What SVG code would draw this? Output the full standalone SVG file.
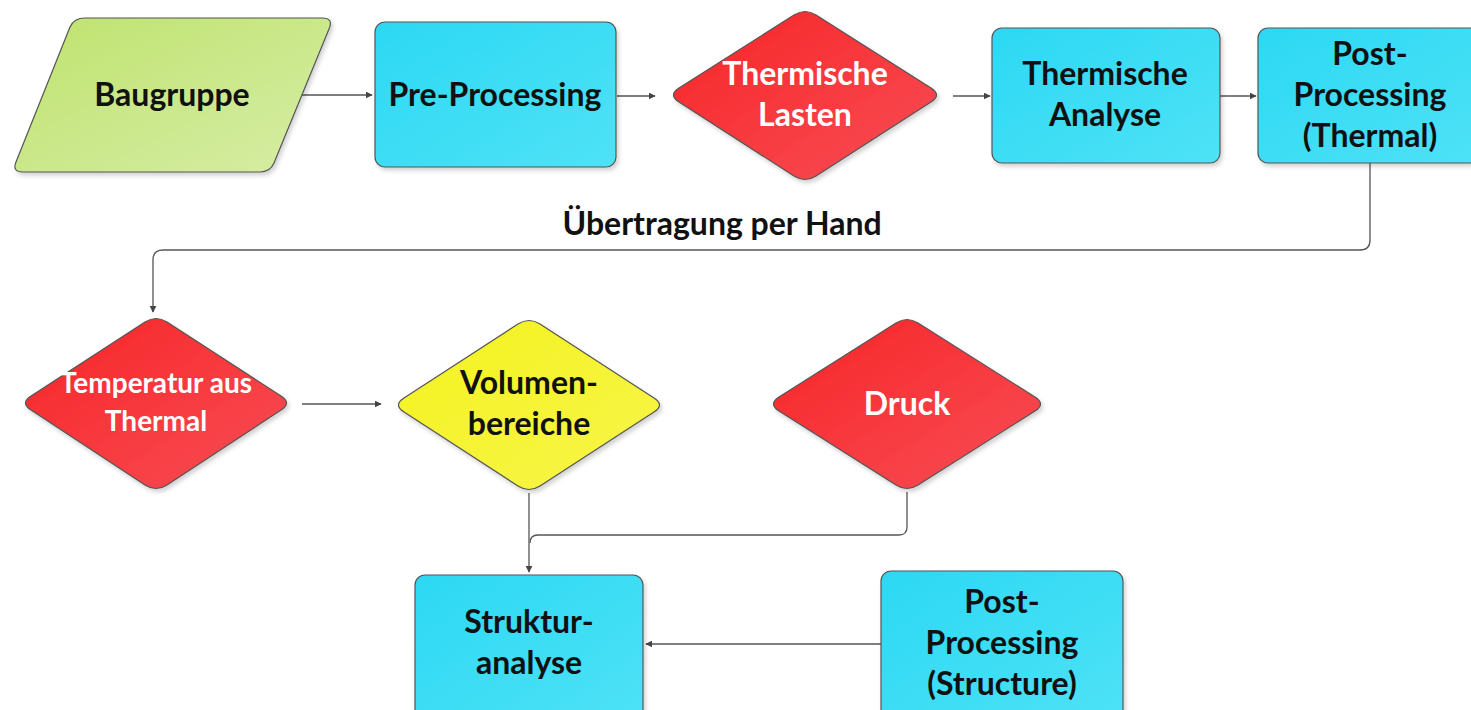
<svg xmlns="http://www.w3.org/2000/svg" width="1471" height="710" viewBox="0 0 1471 710">
<defs>
<linearGradient id="gCyan" x1="0" y1="0" x2="1" y2="1"><stop offset="0" stop-color="#2cd8f3"/><stop offset="1" stop-color="#4ee2f6"/></linearGradient>
<linearGradient id="gRed" x1="0" y1="0" x2="1" y2="1"><stop offset="0" stop-color="#f72427"/><stop offset="1" stop-color="#f84e55"/></linearGradient>
<linearGradient id="gGreen" x1="0" y1="0" x2="1" y2="1"><stop offset="0" stop-color="#bfe36e"/><stop offset="1" stop-color="#d6eda6"/></linearGradient>
<linearGradient id="gYellow" x1="0" y1="0" x2="1" y2="1"><stop offset="0" stop-color="#f4f21e"/><stop offset="1" stop-color="#f7f54a"/></linearGradient>
<filter id="sh" x="-10%" y="-10%" width="120%" height="120%"><feDropShadow dx="2" dy="3" stdDeviation="2" flood-color="#000" flood-opacity="0.18"/></filter>
<marker id="arr" viewBox="0 0 10 10" refX="9" refY="5" markerWidth="7" markerHeight="7" orient="auto" markerUnits="userSpaceOnUse"><path d="M0,0 L10,5 L0,10 Z" fill="#444"/></marker>
</defs>
<style>
.node{stroke:#555;stroke-width:1.2;filter:url(#sh)}
.cy{fill:url(#gCyan)}
.rd{fill:url(#gRed)}
.gr{fill:url(#gGreen)}
.ye{fill:url(#gYellow)}
.t{font-family:Lato,"Open Sans","Liberation Sans",sans-serif;font-weight:bold;font-size:32px;text-anchor:middle;fill:#111}
.w{fill:#fff}
.s{font-size:28px}
.conn{fill:none;stroke:#555;stroke-width:1.3}
</style>
<rect width="1471" height="710" fill="#fff"/>
<g id="connectors">
<path class="conn" d="M302,95 H372" marker-end="url(#arr)"/>
<path class="conn" d="M617,96 H655" marker-end="url(#arr)"/>
<path class="conn" d="M953,96 H990" marker-end="url(#arr)"/>
<path class="conn" d="M1220,96 H1256" marker-end="url(#arr)"/>
<path class="conn" d="M1370,163 V240 Q1370,250 1360,250 H163 Q153,250 153,260 V312" marker-end="url(#arr)"/>
<path class="conn" d="M302,404 H381" marker-end="url(#arr)"/>
<path class="conn" d="M529,493 V572" marker-end="url(#arr)"/>
<path class="conn" d="M907,492 V527 Q907,535 899,535 H538 Q530,535 530,543"/>
<path class="conn" d="M881,644 H646" marker-end="url(#arr)"/>
<text class="t" x="722" y="235">Übertragung per Hand</text>
</g>
<g id="baugruppe">
<path class="node gr" d="M85,18 L322,18 Q334,18 329,29 L274,163 Q270,172 260,172 L23,172 Q12,172 16,162 L70,27 Q74,18 85,18 Z"/>
<text class="t" x="172" y="106">Baugruppe</text>
</g>
<g id="preprocessing">
<rect class="node cy" x="375" y="22" width="241" height="145" rx="10"/>
<text class="t" x="495" y="106">Pre-Processing</text>
</g>
<g id="thermische-lasten">
<path class="node rd" d="M679,88 L794,15 Q805,8 816,15 L931,88 Q942,95 931,102 L816,176 Q805,183 794,176 L679,102 Q668,95 679,88 Z"/>
<text class="t w" x="805" y="85">Thermische</text>
<text class="t w" x="805" y="126">Lasten</text>
</g>
<g id="thermische-analyse">
<rect class="node cy" x="992" y="28" width="228" height="135" rx="10"/>
<text class="t" x="1105" y="85">Thermische</text>
<text class="t" x="1105" y="126">Analyse</text>
</g>
<g id="postprocessing-thermal">
<rect class="node cy" x="1258" y="28" width="225" height="135" rx="10"/>
<text class="t" x="1370" y="65">Post-</text>
<text class="t" x="1370" y="106">Processing</text>
<text class="t" x="1370" y="147">(Thermal)</text>
</g>
<g id="temperatur">
<path class="node rd" d="M31,396 L145,322 Q156,315 167,322 L281,396 Q292,403 281,410 L167,485 Q156,492 145,485 L31,410 Q20,403 31,396 Z"/>
<text class="t w s" x="156" y="393">Temperatur aus</text>
<text class="t w s" x="156" y="431">Thermal</text>
</g>
<g id="volumenbereiche">
<path class="node ye" d="M404,398 L518,324 Q529,317 540,324 L654,398 Q665,405 654,412 L540,486 Q529,493 518,486 L404,412 Q393,405 404,398 Z"/>
<text class="t" x="529" y="394">Volumen-</text>
<text class="t" x="529" y="435">bereiche</text>
</g>
<g id="druck">
<path class="node rd" d="M779,397 L896,323 Q907,316 918,323 L1035,397 Q1046,404 1035,411 L918,485 Q907,492 896,485 L779,411 Q768,404 779,397 Z"/>
<text class="t w" x="907" y="415">Druck</text>
</g>
<g id="strukturanalyse">
<rect class="node cy" x="415" y="575" width="228" height="150" rx="10"/>
<text class="t" x="529" y="633">Struktur-</text>
<text class="t" x="529" y="674">analyse</text>
</g>
<g id="postprocessing-structure">
<rect class="node cy" x="881" y="571" width="242" height="155" rx="10"/>
<text class="t" x="1002" y="613">Post-</text>
<text class="t" x="1002" y="654">Processing</text>
<text class="t" x="1002" y="695">(Structure)</text>
</g>
</svg>
